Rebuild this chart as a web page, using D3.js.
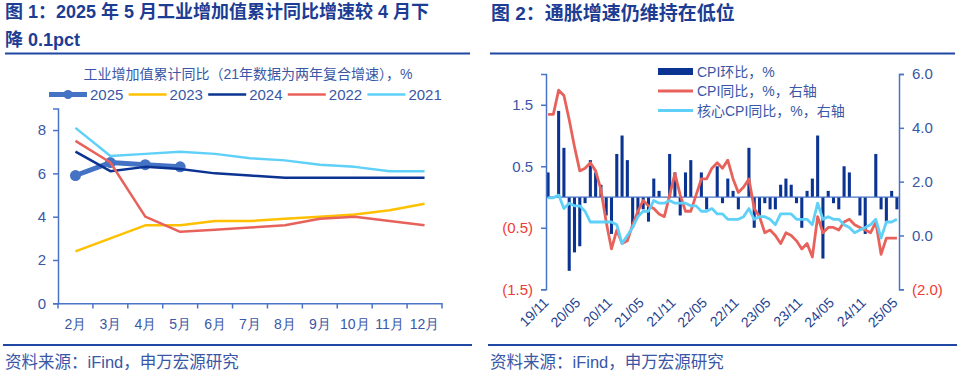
<!DOCTYPE html>
<html><head><meta charset="utf-8">
<script src="https://cdn.jsdelivr.net/npm/d3@7"></script>
<style>
body{margin:0;background:#fff;}
svg{display:block;font-family:"Liberation Sans","Noto Sans CJK SC",sans-serif;}
</style></head><body>
<svg id="c" width="960" height="376"></svg>
<script>
// ---------- Data: figure 1 ----------
const months = ["2月","3月","4月","5月","6月","7月","8月","9月","10月","11月","12月"];
const ind2025 = [5.9,6.5,6.4,6.3];
const ind2023 = [2.4,3.0,3.6,3.6,3.8,3.8,3.9,4.0,4.1,4.3,4.6];
const ind2024 = [7.0,6.1,6.3,6.2,6.0,5.9,5.8,5.8,5.8,5.8,5.8];
const ind2022 = [7.5,6.5,4.0,3.3,3.4,3.5,3.6,3.9,4.0,3.8,3.6];
const ind2021 = [8.1,6.8,6.9,7.0,6.9,6.7,6.6,6.4,6.3,6.1,6.1];
const indSeriesNames = ["2025","2023","2024","2022","2021"];
const indTicks = [0,2,4,6,8];

// ---------- Data: figure 2 ----------
const cpiMonths = ["19/11","19/12",
 "20/01","20/02","20/03","20/04","20/05","20/06","20/07","20/08","20/09","20/10","20/11","20/12",
 "21/01","21/02","21/03","21/04","21/05","21/06","21/07","21/08","21/09","21/10","21/11","21/12",
 "22/01","22/02","22/03","22/04","22/05","22/06","22/07","22/08","22/09","22/10","22/11","22/12",
 "23/01","23/02","23/03","23/04","23/05","23/06","23/07","23/08","23/09","23/10","23/11","23/12",
 "24/01","24/02","24/03","24/04","24/05","24/06","24/07","24/08","24/09","24/10","24/11","24/12",
 "25/01","25/02","25/03","25/04","25/05"];
const cpiMoM = [0.4,0.0,
 1.4,0.8,-1.2,-0.9,-0.8,-0.1,0.6,0.4,0.2,-0.3,-0.6,0.7,
 1.0,0.6,-0.5,-0.3,-0.2,-0.4,0.3,0.1,0.0,0.7,0.4,-0.3,
 0.4,0.6,0.0,0.4,-0.2,0.0,0.5,-0.1,0.3,0.1,-0.2,0.0,
 0.8,-0.5,-0.3,-0.1,-0.2,-0.2,0.2,0.3,0.2,-0.1,-0.5,0.1,
 0.3,1.0,-1.0,0.1,-0.1,-0.2,0.5,0.4,0.0,-0.3,-0.6,0.0,
 0.7,-0.2,-0.4,0.1,-0.2];
const cpiYoY = [4.5,4.5,
 5.4,5.2,4.3,3.3,2.4,2.5,2.7,2.4,1.7,0.5,-0.5,0.2,
 -0.3,-0.2,0.4,0.9,1.3,1.1,1.0,0.8,0.7,1.5,2.3,1.5,
 0.9,0.9,1.5,2.1,2.1,2.5,2.7,2.5,2.8,2.1,1.6,1.8,
 2.1,1.0,0.7,0.1,0.2,0.0,-0.3,0.1,0.0,-0.2,-0.5,-0.3,
 -0.8,0.7,0.1,0.3,0.3,0.2,0.5,0.6,0.4,0.3,0.2,0.1,
 0.5,-0.7,-0.1,-0.1,-0.1];
const coreYoY = [1.4,1.4,
 1.5,1.0,1.2,1.1,1.1,0.9,0.5,0.5,0.5,0.5,0.5,0.4,
 -0.3,0.0,0.3,0.7,0.9,0.9,1.3,1.2,1.2,1.3,1.2,1.2,
 1.2,1.1,1.1,0.9,0.9,1.0,0.8,0.8,0.6,0.6,0.6,0.7,
 1.0,0.6,0.7,0.7,0.6,0.4,0.8,0.8,0.8,0.6,0.6,0.6,
 0.4,1.2,0.6,0.7,0.6,0.6,0.4,0.3,0.1,0.2,0.3,0.4,
 0.6,-0.1,0.5,0.5,0.6];
const cpiTickLabels = ["19/11","20/05","20/11","21/05","21/11","22/05","22/11","23/05","23/11","24/05","24/11","25/05"];
const momTicks = [-1.5,-0.5,0.5,1.5];
const yoyTicks = [-2,0,2,4,6];
const cpiLegend = ["CPI环比，%","CPI同比，%，右轴","核心CPI同比，%，右轴"];

// ---------- Styles ----------
const titleC = "#1c3d93", ruleC = "#1f47a3", axisC = "#4a74c6", textC = "#3957a6", darkLab = "#23418f";
const red = "#e8625c", navy = "#0b3391", lblue = "#5fd0f7", yellow = "#ffc000", mblue = "#4472c4";
const negC = "#ee3b33";

const svg = d3.select("#c");

// Titles
svg.append("text").attr("x",5).attr("y",18).attr("font-size",18).attr("font-weight","bold").attr("fill",titleC)
  .text("图 1：2025 年 5 月工业增加值累计同比增速较 4 月下");
svg.append("text").attr("x",5).attr("y",46).attr("font-size",18).attr("font-weight","bold").attr("fill",titleC)
  .text("降 0.1pct");
svg.append("text").attr("x",491).attr("y",19.5).attr("font-size",19).attr("font-weight","bold").attr("fill",titleC)
  .text("图 2：通胀增速仍维持在低位");
[[5,470],[490,955]].forEach(([a,b])=>{
  svg.append("line").attr("x1",a).attr("x2",b).attr("y1",53.5).attr("y2",53.5).attr("stroke",ruleC).attr("stroke-width",2.2);
  svg.append("line").attr("x1",a-2).attr("x2",b+2).attr("y1",345).attr("y2",345).attr("stroke",ruleC).attr("stroke-width",2.2);
  svg.append("text").attr("x",a).attr("y",368).attr("font-size",16.5).attr("fill",textC).text("资料来源：iFind，申万宏源研究");
});

// ---------- Figure 1 ----------
const x1 = d3.scaleBand().domain(months).range([58,442]).padding(0);
const y1 = d3.scaleLinear().domain([0,9]).range([303.3,108.4]);
const g1 = svg.append("g");

// y axis
const ya1 = g1.append("g").attr("transform","translate(58,0)")
  .call(d3.axisLeft(y1).tickValues(indTicks).tickSize(5).tickPadding(7).tickFormat(d3.format("d")));
ya1.select(".domain").attr("stroke",axisC).attr("stroke-width",1.5);
ya1.selectAll(".tick line").attr("stroke",axisC).attr("stroke-width",1.5);
ya1.selectAll("text").attr("fill",textC).attr("font-size",15).attr("font-family","Liberation Sans, sans-serif");

// x axis
const xa1 = g1.append("g").attr("transform","translate(0,303.3)")
  .call(d3.axisBottom(x1).tickSize(0).tickPadding(16));
xa1.select(".domain").attr("stroke",axisC).attr("stroke-width",1.5);
xa1.selectAll("text").attr("fill",textC).attr("font-size",14);
const bounds = months.map(m=>x1(m)).concat([x1(months[months.length-1])+x1.bandwidth()]);
g1.selectAll(".xt").data(bounds).enter().append("line")
  .attr("x1",d=>d).attr("x2",d=>d).attr("y1",303.3).attr("y2",308.5).attr("stroke",axisC).attr("stroke-width",1.5);

const line1 = d3.line().x((d,i)=>x1(months[i])+x1.bandwidth()/2).y(d=>y1(d));
const series1 = [
  {name:"2025", v:ind2025, c:mblue, w:5},
  {name:"2023", v:ind2023, c:yellow, w:2.5},
  {name:"2024", v:ind2024, c:navy, w:2.5},
  {name:"2022", v:ind2022, c:red, w:2.5},
  {name:"2021", v:ind2021, c:lblue, w:2.5}
];
series1.forEach(s=>{
  g1.append("path").datum(s.v).attr("d",line1).attr("fill","none").attr("stroke",s.c).attr("stroke-width",s.w).attr("stroke-linejoin","round");
  if(s.name==="2025"){
    g1.selectAll(".m25").data(s.v).enter().append("circle")
      .attr("cx",(d,i)=>x1(months[i])+x1.bandwidth()/2).attr("cy",d=>y1(d)).attr("r",5.5).attr("fill",mblue);
  }
});

// legend fig 1
g1.append("text").attr("x",248).attr("y",79).attr("text-anchor","middle").attr("font-size",14).attr("fill",textC)
  .text("工业增加值累计同比（21年数据为两年复合增速），%");
series1.forEach((s,i)=>{
  const lx = 49 + i*79.6, ly = 94.5;
  g1.append("line").attr("x1",lx).attr("x2",lx+38).attr("y1",ly).attr("y2",ly).attr("stroke",s.c).attr("stroke-width",s.w);
  if(s.name==="2025") g1.append("circle").attr("cx",lx+19).attr("cy",ly).attr("r",4.5).attr("fill",mblue);
  g1.append("text").attr("x",lx+41).attr("y",ly+5.5).attr("font-size",15).attr("fill",textC).text(indSeriesNames[i]);
});

// ---------- Figure 2 ----------
const x2 = d3.scaleBand().domain(cpiMonths).range([546,899]).paddingInner(0.42).paddingOuter(0.1);
const yL = d3.scaleLinear().domain([-1.5,2.0]).range([289.3,74]);
const yR = d3.scaleLinear().domain([-2,6]).range([289.3,74]);
const g2 = svg.append("g");
const paren = f => d => d<0 ? "("+f(-d)+")" : f(d);

// bars
g2.selectAll(".bar").data(cpiMoM).enter().append("rect")
  .attr("x",(d,i)=>x2(cpiMonths[i])).attr("width",x2.bandwidth())
  .attr("y",d=>yL(Math.max(0,d))).attr("height",d=>Math.abs(yL(d)-yL(0)))
  .attr("fill",navy);
// zero category line
g2.append("line").attr("x1",546).attr("x2",899).attr("y1",yL(0)).attr("y2",yL(0)).attr("stroke",axisC).attr("stroke-width",1.3);

const cx2 = (d,i)=>x2(cpiMonths[i])+x2.bandwidth()/2;
g2.append("path").datum(cpiYoY).attr("d",d3.line().x(cx2).y(d=>yR(d)))
  .attr("fill","none").attr("stroke",red).attr("stroke-width",2.8).attr("stroke-linejoin","round");
g2.append("path").datum(coreYoY).attr("d",d3.line().x(cx2).y(d=>yR(d)))
  .attr("fill","none").attr("stroke",lblue).attr("stroke-width",2.8).attr("stroke-linejoin","round");

// left axis
const yaL = g2.append("g").attr("transform","translate(546,0)")
  .call(d3.axisLeft(yL).tickValues(momTicks).tickSize(5).tickPadding(8).tickFormat(paren(d3.format(".1f"))));
yaL.select(".domain").attr("stroke",axisC).attr("stroke-width",1.5);
yaL.selectAll(".tick line").attr("stroke",axisC).attr("stroke-width",1.5);
yaL.selectAll("text").attr("font-size",15).attr("fill",d=>d<0?negC:textC);

// right axis
const yaR = g2.append("g").attr("transform","translate(899,0)")
  .call(d3.axisRight(yR).tickValues(yoyTicks).tickSize(5).tickPadding(8).tickFormat(paren(d3.format(".1f"))));
yaR.select(".domain").attr("stroke",axisC).attr("stroke-width",1.5);
yaR.selectAll(".tick line").attr("stroke",axisC).attr("stroke-width",1.5);
yaR.selectAll("text").attr("font-size",15).attr("fill",d=>d<0?negC:textC);

// x labels (rotated)
g2.selectAll(".xl").data(cpiTickLabels).enter().append("text")
  .attr("transform",d=>`translate(${x2(d)+x2.bandwidth()/2-2},${300}) rotate(-45)`)
  .attr("text-anchor","end").attr("dy","0.35em").attr("font-size",14).attr("fill",darkLab).text(d=>d);

// legend fig 2
const legC = [navy, red, lblue];
cpiLegend.forEach((t,i)=>{
  const ly = 71.5 + i*19.5;
  if(i===0) g2.append("rect").attr("x",658).attr("y",ly-3.5).attr("width",35).attr("height",7).attr("fill",navy);
  else g2.append("line").attr("x1",658).attr("x2",693).attr("y1",ly).attr("y2",ly).attr("stroke",legC[i]).attr("stroke-width",3);
  g2.append("text").attr("x",697).attr("y",ly+5).attr("font-size",14).attr("fill",textC).text(t);
});
</script>
</body></html>
